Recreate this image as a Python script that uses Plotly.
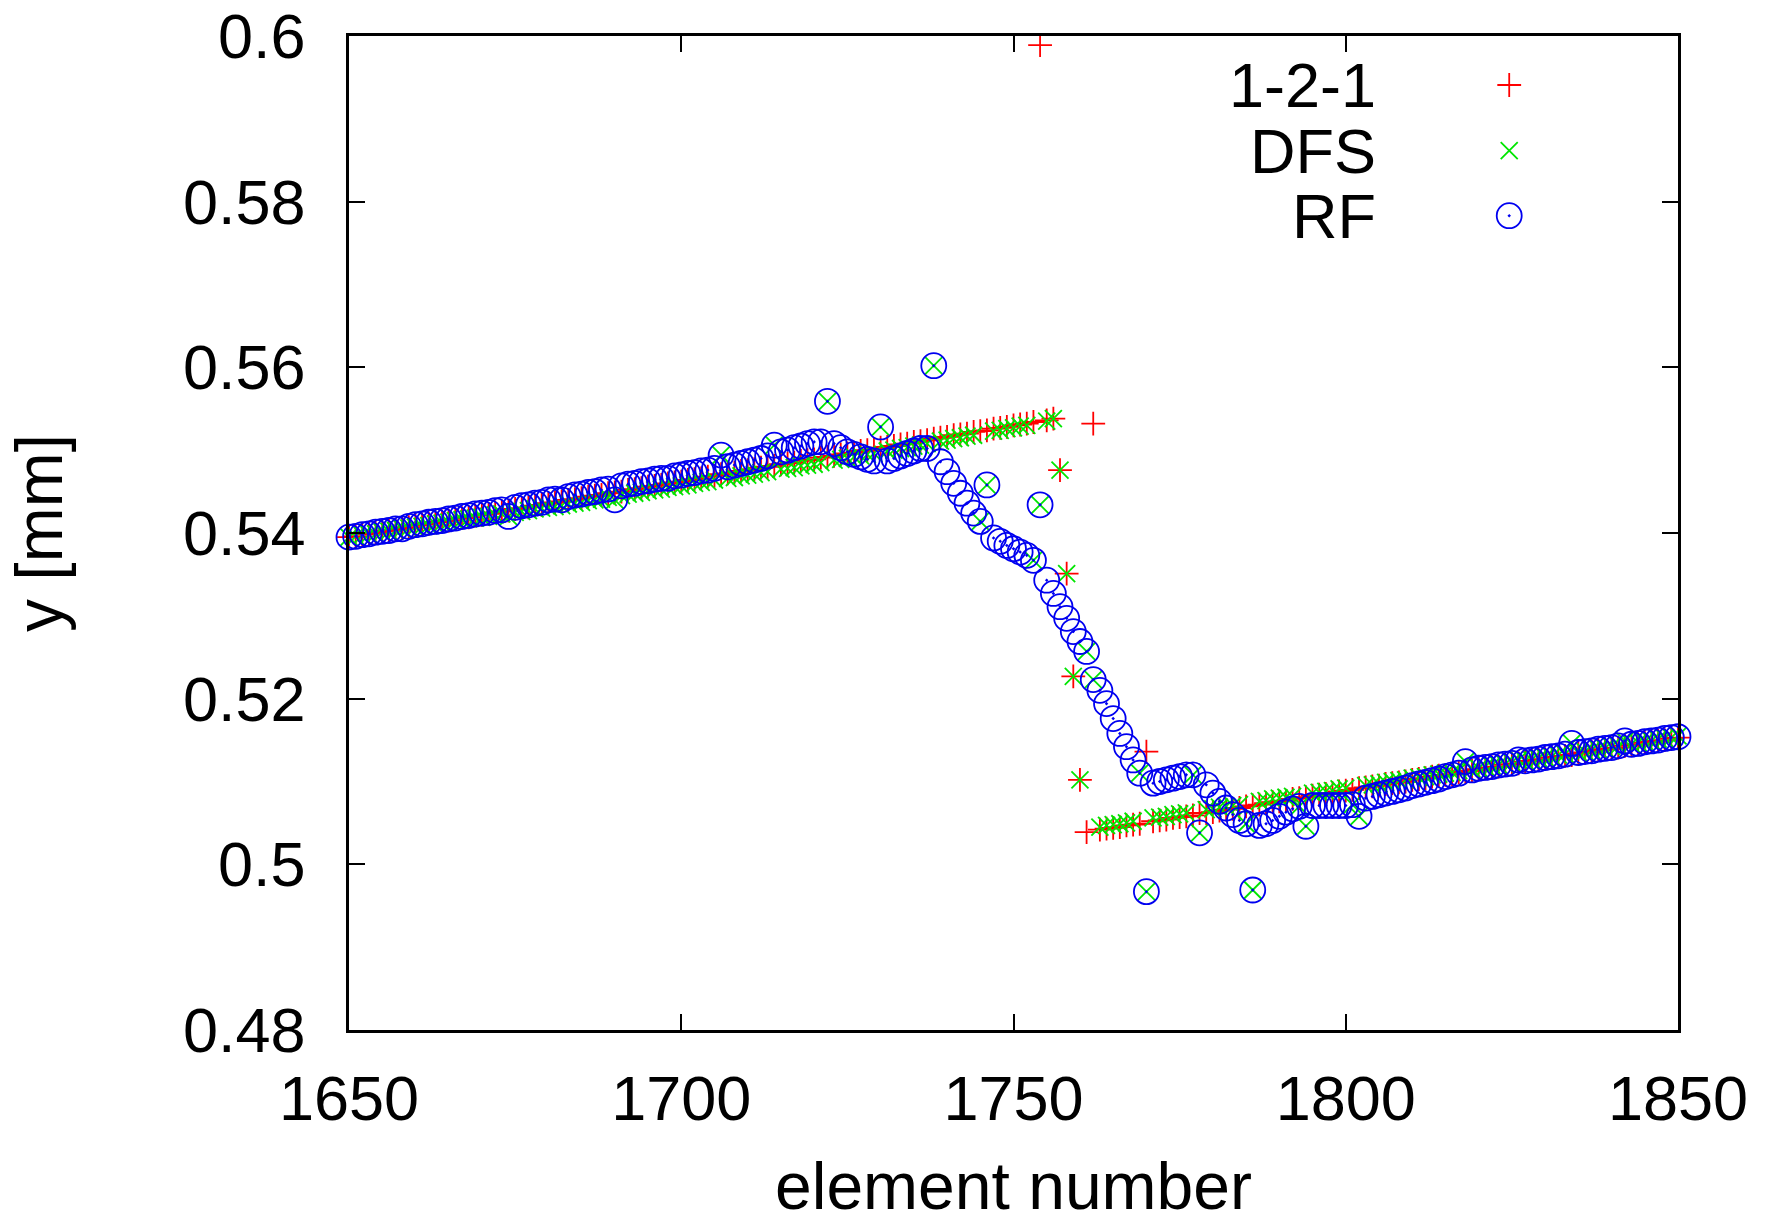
import plotly.graph_objects as go

# element numbers 1650..1850
ELEMENTS = list(range(1650, 1851))

# 1-2-1 smoothing (red +)
Y_121 = [
    0.5395, 0.5396, 0.5398, 0.5399, 0.5400, 0.5402, 0.5403, 0.5404, 0.5406, 0.5407,
    0.5409, 0.5410, 0.5411, 0.5413, 0.5414, 0.5415, 0.5417, 0.5418, 0.5419, 0.5421,
    0.5422, 0.5423, 0.5425, 0.5426, 0.5427, 0.5429, 0.5430, 0.5431, 0.5433, 0.5434,
    0.5436, 0.5437, 0.5438, 0.5440, 0.5441, 0.5442, 0.5444, 0.5445, 0.5446, 0.5448,
    0.5449, 0.5450, 0.5452, 0.5453, 0.5454, 0.5456, 0.5457, 0.5458, 0.5460, 0.5461,
    0.5462, 0.5464, 0.5465, 0.5466, 0.5468, 0.5469, 0.5471, 0.5472, 0.5473, 0.5475,
    0.5476, 0.5477, 0.5479, 0.5480, 0.5481, 0.5483, 0.5484, 0.5485, 0.5487, 0.5488,
    0.5489, 0.5491, 0.5492, 0.5493, 0.5495, 0.5496, 0.5497, 0.5499, 0.5500, 0.5501,
    0.5503, 0.5504, 0.5505, 0.5507, 0.5508, 0.5510, 0.5511, 0.5512, 0.5514, 0.5515,
    0.5516, 0.5518, 0.5519, 0.5520, 0.5522, 0.5523, 0.5524, 0.5526, 0.5527, 0.5528,
    0.5530, 0.5531, 0.5532, 0.5534, 0.5989, 0.5536, 0.5538, 0.5476, 0.5351, 0.5227,
    0.5102, 0.5039, 0.5532, 0.5042, 0.5043, 0.5044, 0.5045, 0.5047, 0.5048, 0.5049,
    0.5136, 0.5052, 0.5053, 0.5054, 0.5056, 0.5057, 0.5058, 0.5059, 0.5062, 0.5062,
    0.5063, 0.5065, 0.5066, 0.5067, 0.5068, 0.5070, 0.5071, 0.5072, 0.5074, 0.5075,
    0.5076, 0.5077, 0.5079, 0.5080, 0.5081, 0.5083, 0.5084, 0.5085, 0.5086, 0.5088,
    0.5089, 0.5090, 0.5092, 0.5093, 0.5094, 0.5095, 0.5097, 0.5098, 0.5099, 0.5100,
    0.5102, 0.5103, 0.5104, 0.5106, 0.5107, 0.5108, 0.5109, 0.5111, 0.5112, 0.5113,
    0.5115, 0.5116, 0.5117, 0.5118, 0.5120, 0.5121, 0.5122, 0.5124, 0.5125, 0.5126,
    0.5127, 0.5129, 0.5130, 0.5131, 0.5132, 0.5134, 0.5135, 0.5136, 0.5138, 0.5139,
    0.5140, 0.5141, 0.5143, 0.5144, 0.5145, 0.5147, 0.5148, 0.5149, 0.5150, 0.5152,
    0.5153,
]

# DFS (green x)
Y_DFS = [
    0.5395, 0.5396, 0.5397, 0.5398, 0.5399, 0.5401, 0.5402, 0.5403, 0.5405, 0.5406,
    0.5407, 0.5408, 0.5409, 0.5411, 0.5412, 0.5413, 0.5415, 0.5416, 0.5417, 0.5418,
    0.5419, 0.5420, 0.5422, 0.5423, 0.5420, 0.5425, 0.5426, 0.5427, 0.5429, 0.5430,
    0.5431, 0.5432, 0.5433, 0.5435, 0.5436, 0.5437, 0.5439, 0.5440, 0.5441, 0.5443,
    0.5440, 0.5445, 0.5447, 0.5448, 0.5449, 0.5451, 0.5452, 0.5453, 0.5455, 0.5456,
    0.5457, 0.5458, 0.5460, 0.5461, 0.5462, 0.5464, 0.5494, 0.5466, 0.5467, 0.5469,
    0.5470, 0.5471, 0.5473, 0.5474, 0.5506, 0.5477, 0.5478, 0.5479, 0.5481, 0.5482,
    0.5483, 0.5485, 0.5559, 0.5488, 0.5489, 0.5490, 0.5492, 0.5493, 0.5495, 0.5496,
    0.5528, 0.5499, 0.5500, 0.5502, 0.5503, 0.5505, 0.5506, 0.5508, 0.5602, 0.5511,
    0.5512, 0.5514, 0.5515, 0.5517, 0.5518, 0.5414, 0.5458, 0.5523, 0.5524, 0.5526,
    0.5527, 0.5529, 0.5530, 0.5367, 0.5434, 0.5535, 0.5538, 0.5476, 0.5351, 0.5227,
    0.5102, 0.5257, 0.5223, 0.5045, 0.5047, 0.5048, 0.5049, 0.5050, 0.5052, 0.5110,
    0.4967, 0.5056, 0.5057, 0.5058, 0.5060, 0.5061, 0.5062, 0.5108, 0.5038, 0.5066,
    0.5067, 0.5069, 0.5070, 0.5071, 0.5072, 0.5049, 0.4969, 0.5076, 0.5077, 0.5079,
    0.5080, 0.5081, 0.5082, 0.5070, 0.5046, 0.5086, 0.5087, 0.5088, 0.5089, 0.5091,
    0.5092, 0.5072, 0.5058, 0.5095, 0.5096, 0.5097, 0.5099, 0.5100, 0.5101, 0.5102,
    0.5104, 0.5105, 0.5106, 0.5108, 0.5109, 0.5110, 0.5111, 0.5113, 0.5124, 0.5115,
    0.5116, 0.5118, 0.5119, 0.5120, 0.5121, 0.5123, 0.5126, 0.5125, 0.5126, 0.5128,
    0.5129, 0.5130, 0.5132, 0.5133, 0.5146, 0.5135, 0.5136, 0.5138, 0.5139, 0.5140,
    0.5142, 0.5143, 0.5149, 0.5145, 0.5147, 0.5148, 0.5149, 0.5151, 0.5152, 0.5153,
    0.5155,
]

# RF (blue circles)
Y_RF = [
    0.5395, 0.5396, 0.5398, 0.5399, 0.5401, 0.5402, 0.5403, 0.5405, 0.5405, 0.5408,
    0.5410, 0.5411, 0.5413, 0.5414, 0.5415, 0.5417, 0.5418, 0.5420, 0.5421, 0.5423,
    0.5424, 0.5425, 0.5427, 0.5428, 0.5420, 0.5431, 0.5433, 0.5434, 0.5436, 0.5437,
    0.5440, 0.5441, 0.5440, 0.5444, 0.5446, 0.5447, 0.5449, 0.5450, 0.5452, 0.5453,
    0.5440, 0.5457, 0.5459, 0.5460, 0.5462, 0.5463, 0.5465, 0.5466, 0.5466, 0.5469,
    0.5470, 0.5472, 0.5473, 0.5475, 0.5476, 0.5478, 0.5494, 0.5480, 0.5482, 0.5484,
    0.5486, 0.5488, 0.5490, 0.5493, 0.5506, 0.5498, 0.5500, 0.5503, 0.5505, 0.5508,
    0.5510, 0.5510, 0.5559, 0.5508, 0.5503, 0.5498, 0.5495, 0.5492, 0.5489, 0.5487,
    0.5528, 0.5487, 0.5490, 0.5493, 0.5496, 0.5499, 0.5502, 0.5502, 0.5602, 0.5486,
    0.5474, 0.5460, 0.5448, 0.5436, 0.5424, 0.5414, 0.5458, 0.5394, 0.5390, 0.5385,
    0.5381, 0.5377, 0.5373, 0.5367, 0.5434, 0.5343, 0.5327, 0.5311, 0.5297, 0.5281,
    0.5269, 0.5257, 0.5223, 0.5210, 0.5194, 0.5176, 0.5158, 0.5142, 0.5126, 0.5110,
    0.4967, 0.5098, 0.5100, 0.5102, 0.5104, 0.5106, 0.5108, 0.5108, 0.5038, 0.5096,
    0.5086, 0.5076, 0.5068, 0.5060, 0.5053, 0.5049, 0.4969, 0.5047, 0.5049, 0.5053,
    0.5058, 0.5063, 0.5067, 0.5070, 0.5046, 0.5071, 0.5071, 0.5071, 0.5071, 0.5071,
    0.5071, 0.5072, 0.5058, 0.5080, 0.5082, 0.5084, 0.5086, 0.5088, 0.5090, 0.5092,
    0.5095, 0.5097, 0.5099, 0.5101, 0.5103, 0.5106, 0.5108, 0.5110, 0.5124, 0.5114,
    0.5116, 0.5117, 0.5118, 0.5120, 0.5121, 0.5122, 0.5126, 0.5125, 0.5126, 0.5127,
    0.5129, 0.5130, 0.5131, 0.5133, 0.5146, 0.5135, 0.5136, 0.5137, 0.5139, 0.5140,
    0.5141, 0.5143, 0.5149, 0.5145, 0.5146, 0.5148, 0.5149, 0.5150, 0.5152, 0.5153,
    0.5154,
]

SERIES_NAMES = ["1-2-1", "DFS", "RF"]
X_TICKS = [1650, 1700, 1750, 1800, 1850]
Y_TICKS = [0.48, 0.50, 0.52, 0.54, 0.56, 0.58, 0.60]
Y_TICK_TEXT = ["0.48", "0.5", "0.52", "0.54", "0.56", "0.58", "0.6"]

FONT = "Liberation Sans, Arial, Helvetica, sans-serif"
RED = "#ff0000"
GREEN = "#00e600"
BLUE = "#0000f0"

STYLES = [
    dict(symbol="cross-thin-open", size=17, color=RED),
    dict(symbol="x-thin-open", size=17, color=GREEN),
    dict(symbol="circle-open-dot", size=25, color=BLUE),
]
MARKER_LW = 1.8

# legend key placement (paper fractions of the plot area)
LEGEND_KEY_X = 0.873
LEGEND_TEXT_X = 0.7745
LEGEND_ROWS_Y = [0.9507, 0.8846, 0.8192]

fig = go.Figure()

for name, ys, st in zip(SERIES_NAMES, [Y_121, Y_DFS, Y_RF], STYLES):
    fig.add_trace(
        go.Scatter(
            x=ELEMENTS,
            y=ys,
            mode="markers",
            name=name,
            cliponaxis=False,
            showlegend=False,
            marker=dict(
                symbol=st["symbol"],
                size=st["size"],
                color=st["color"],
                line=dict(color=st["color"], width=MARKER_LW),
            ),
        )
    )

# hand-made legend: text on the left, symbol on the right (gnuplot style)
for name, row_y, st in zip(SERIES_NAMES, LEGEND_ROWS_Y, STYLES):
    fig.add_trace(
        go.Scatter(
            x=[LEGEND_KEY_X],
            y=[row_y],
            xaxis="x2",
            yaxis="y2",
            mode="markers",
            showlegend=False,
            hoverinfo="skip",
            cliponaxis=False,
            marker=dict(
                symbol=st["symbol"],
                size=st["size"],
                color=st["color"],
                line=dict(color=st["color"], width=MARKER_LW),
            ),
        )
    )
    fig.add_annotation(
        x=LEGEND_TEXT_X,
        y=row_y,
        xref="paper",
        yref="paper",
        text=name,
        showarrow=False,
        xanchor="right",
        yanchor="middle",
        font=dict(family=FONT, size=63, color="black"),
    )

axis_common = dict(
    showgrid=False,
    zeroline=False,
    showline=True,
    linecolor="black",
    linewidth=2.5,
    mirror="ticks",
    ticks="inside",
    ticklen=16,
    tickwidth=2,
    tickcolor="black",
    automargin=False,
    ticklabeloverflow="allow",
    tickfont=dict(family=FONT, size=63, color="black"),
)

fig.update_layout(
    width=1771,
    height=1223,
    margin=dict(l=349, r=93, t=36, b=193),
    paper_bgcolor="white",
    plot_bgcolor="white",
    font=dict(family=FONT, color="black"),
    xaxis=dict(
        range=[1650, 1850],
        tickvals=X_TICKS,
        ticktext=[str(v) for v in X_TICKS],
        ticklabelstandoff=12,
        title=dict(text="element number", font=dict(family=FONT, size=66), standoff=44),
        **axis_common,
    ),
    yaxis=dict(
        range=[0.48, 0.60],
        tickvals=Y_TICKS,
        ticktext=Y_TICK_TEXT,
        ticklabelstandoff=28,
        title=dict(text="y [mm]", font=dict(family=FONT, size=66), standoff=99),
        **axis_common,
    ),
    xaxis2=dict(range=[0, 1], overlaying="x", visible=False, fixedrange=True),
    yaxis2=dict(range=[0, 1], overlaying="y", visible=False, fixedrange=True),
)

# drop the default 8px page margin so the figure fills the window exactly
fig.write_html(
    "out.html",
    config={"displayModeBar": False},
    post_script="document.body.style.margin = '0px';",
)
